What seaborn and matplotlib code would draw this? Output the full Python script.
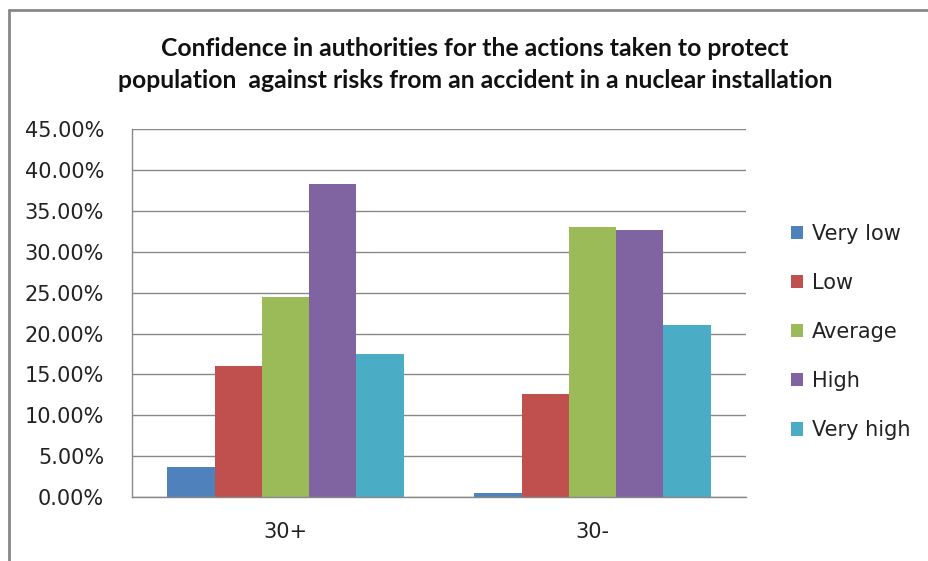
import matplotlib
matplotlib.use("Agg")
import matplotlib.pyplot as plt
import matplotlib.ticker as mticker
from matplotlib.lines import Line2D
from matplotlib.patches import Patch
import pandas as pd
import seaborn as sns

groups = ["30+", "30-"]
levels = ["Very low", "Low", "Average", "High", "Very high"]
share_30plus = [3.63, 16.0, 24.43, 38.25, 17.54]
share_30minus = [0.49, 12.56, 33.07, 32.63, 21.0]
colors = ["#4F81BD", "#C0504D", "#9BBB59", "#8064A2", "#4BACC6"]

rows = []
for g, vals in zip(groups, [share_30plus, share_30minus]):
    for lvl, v in zip(levels, vals):
        rows.append({"Group": g, "Level": lvl, "Share": v})
df = pd.DataFrame(rows)

sns.set_style("white")
plt.rcParams["font.family"] = ["DejaVu Sans"]

fig = plt.figure(figsize=(9.29, 5.61), dpi=100)
ax = fig.add_axes([132 / 929, 1 - 497 / 561, (746 - 132) / 929, (497 - 129.3) / 561])

sns.barplot(data=df, x="Group", y="Share", hue="Level", hue_order=levels,
            palette=colors, width=0.77, gap=0, saturation=1, ax=ax,
            legend=False, edgecolor="none")

grid_c = "#888888"
ax.set_ylim(0, 45)
ax.set_xlim(-0.5, 1.5)
ax.yaxis.set_major_locator(mticker.MultipleLocator(5))
ax.yaxis.set_major_formatter(mticker.FuncFormatter(lambda v, p: f"{v:.2f}%"))
ax.yaxis.grid(True, color=grid_c, linewidth=1)
ax.set_axisbelow(True)
ax.set_xlabel("")
ax.set_ylabel("")

for s in ["top", "right"]:
    ax.spines[s].set_visible(False)
for s in ["left", "bottom"]:
    ax.spines[s].set_color(grid_c)
    ax.spines[s].set_linewidth(1)

ax.tick_params(axis="y", direction="out", length=9, width=1, color=grid_c,
               labelsize=15, pad=11, labelcolor="#222222")
ax.tick_params(axis="x", which="major", length=0, labelsize=15, pad=18,
               labelcolor="#222222")
ax.set_xticks([-0.5, 0.5, 1.5], minor=True)
ax.tick_params(axis="x", which="minor", direction="out", length=8, width=1,
               color=grid_c)

title_x = 475 / 929
fig.text(title_x, 1 - 48 / 561,
         "Confidence in authorities for the actions taken to protect",
         ha="center", va="center", fontsize=17.8, fontweight="bold",
         family=["Lato", "DejaVu Sans"], color="#111111")
fig.text(title_x, 1 - 80 / 561,
         "population  against risks from an accident in a nuclear installation",
         ha="center", va="center", fontsize=17.8, fontweight="bold",
         family=["Lato", "DejaVu Sans"], color="#111111")

handles = [Patch(facecolor=c, edgecolor="none", label=l) for c, l in zip(colors, levels)]
fig.legend(handles=handles, loc="center left",
           bbox_to_anchor=(772 / 929, 1 - 332 / 561), frameon=False,
           fontsize=15, labelspacing=1.4, handlelength=0.6, handleheight=0.6,
           handletextpad=0.4, labelcolor="#222222")

# outer chart frame
fig.add_artist(Line2D([9 / 929, 9 / 929], [0, 1 - 10 / 561], color="#888888",
                      linewidth=2, transform=fig.transFigure))
fig.add_artist(Line2D([9 / 929, 1], [1 - 10 / 561, 1 - 10 / 561], color="#888888",
                      linewidth=2, transform=fig.transFigure))

fig.savefig("out.png", dpi=100)
